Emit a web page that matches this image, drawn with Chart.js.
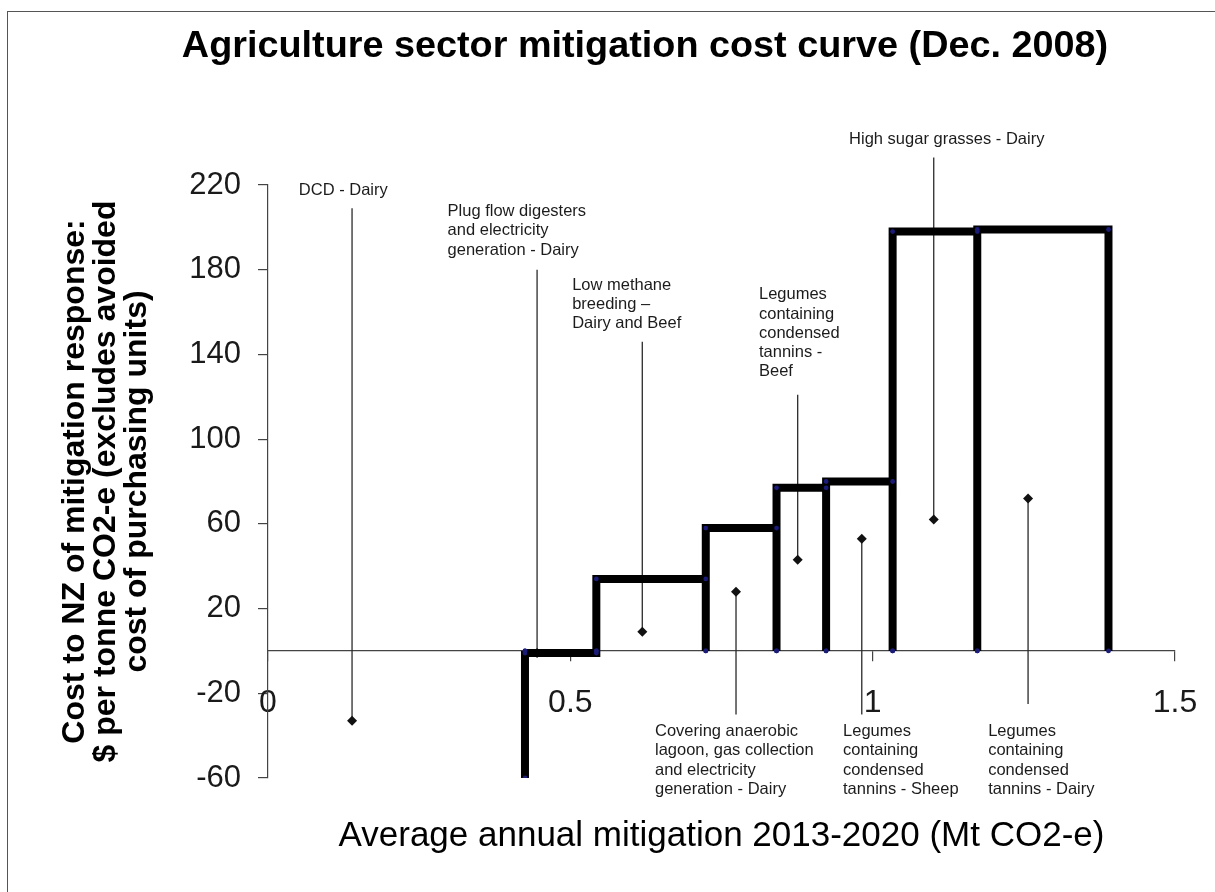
<!DOCTYPE html>
<html>
<head>
<meta charset="utf-8">
<title>Agriculture sector mitigation cost curve</title>
<script src="https://cdn.jsdelivr.net/npm/chart.js@4.4.1/dist/chart.umd.min.js"></script>
<style>
  html, body { margin: 0; padding: 0; background: #fff; }
  #wrap { position: relative; width: 1215px; height: 892px; overflow: hidden; }
  #wrap canvas { position: absolute; left: 0; top: 0; }
  #frame { position: absolute; left: 7px; top: 11px; width: 1400px; height: 1000px;
           border-left: 1.5px solid #555; border-top: 1.5px solid #555; pointer-events: none; }
</style>
</head>
<body>
<div id="wrap">
  <canvas id="mac" width="1215" height="892"></canvas>
  <div id="frame"></div>
</div>
<script>
// Mitigation measures, in merit order along the curve
const measureNames = [
  'DCD - Dairy',
  'Plug flow digesters and electricity generation - Dairy',
  'Low methane breeding - Dairy and Beef',
  'Covering anaerobic lagoon, gas collection and electricity generation - Dairy',
  'Legumes containing condensed tannins - Beef',
  'Legumes containing condensed tannins - Sheep',
  'High sugar grasses - Dairy',
  'Legumes containing condensed tannins - Dairy'
];

// Cumulative mitigation (Mt CO2-e) where each measure's block starts and ends
const blockStart = [0, 0.425, 0.543, 0.724, 0.841, 0.923, 1.033, 1.173];
const blockEnd   = [0.425, 0.543, 0.724, 0.841, 0.923, 1.033, 1.173, 1.390];
// Cost ($ per tonne CO2-e); the DCD block runs below the axis floor of -60
const blockCost  = [-60, -1, 34, 58, 77, 80, 198, 199];

// Call-out markers: x position, marker value, and where the leader line ends
const calloutX    = [0.139, 0.445, 0.619, 0.774, 0.876, 0.982, 1.101, 1.257];
const calloutMark = [-33, -1, 9, 28, 43, 53, 62, 72];
const calloutEnd  = [209, 180, 146, -30, 121, -30, 233, -25];

// Call-out text, line by line
const calloutText = [
  ['DCD - Dairy'],
  ['Plug flow digesters', 'and electricity', 'generation - Dairy'],
  ['Low methane', 'breeding \u2013', 'Dairy and Beef'],
  ['Covering anaerobic', 'lagoon, gas collection', 'and electricity', 'generation - Dairy'],
  ['Legumes', 'containing', 'condensed', 'tannins -', 'Beef'],
  ['Legumes', 'containing', 'condensed', 'tannins - Sheep'],
  ['High sugar grasses - Dairy'],
  ['Legumes', 'containing', 'condensed', 'tannins - Dairy']
];

// Axis ticks
const xTickValues = [0, 0.5, 1, 1.5];
const xTickLabels = ['0', '0.5', '1', '1.5'];
const yTickValues = [-60, -20, 20, 60, 100, 140, 180, 220];
const yTickLabels = ['-60', '-20', '20', '60', '100', '140', '180', '220'];

// ---- layout of the text blocks (axis units of the first line's left edge) ----
const calloutTextAt = [
  [0.051, 217.3], [0.297, 207.4], [0.503, 172.8], [0.640, -38.1],
  [0.812, 168.1], [0.951, -38.1], [0.961, 241.3], [1.191, -38.1]
];

const FONT = '"Liberation Sans", Arial, Helvetica, sans-serif';

// Outline of the cost curve: each block drawn as an open rectangle on the x axis
const stepPoints = [];
blockCost.forEach((c, i) => {
  if (i > 0) {
    stepPoints.push({ x: blockStart[i], y: 0 });
    stepPoints.push({ x: blockStart[i], y: c });
  }
  stepPoints.push({ x: blockEnd[i], y: c });
  stepPoints.push({ x: blockEnd[i], y: 0 });
});

const datasets = [{
  label: 'Marginal cost',
  data: stepPoints,
  showLine: true,
  borderColor: '#000',
  borderWidth: 8,
  borderJoinStyle: 'miter',
  borderCapStyle: 'butt',
  pointRadius: 2.4,
  pointBackgroundColor: '#1b1b78',
  pointBorderWidth: 0
}];

measureNames.forEach((name, i) => {
  datasets.push({
    label: name,
    data: [{ x: calloutX[i], y: calloutMark[i] }, { x: calloutX[i], y: calloutEnd[i] }],
    showLine: true,
    clip: false,
    borderColor: '#2a2a2a',
    borderWidth: 1.3,
    pointStyle: 'rectRot',
    pointRadius: [5, 0],
    pointBackgroundColor: '#111',
    pointBorderColor: '#111',
    pointBorderWidth: 0
  });
});

// Heading and call-out labels
const textPlugin = {
  id: 'macText',
  afterDatasetsDraw(chart) {
    const { ctx, scales: { x, y } } = chart;
    ctx.save();
    ctx.fillStyle = '#000';
    ctx.textAlign = 'center';
    ctx.textBaseline = 'middle';
    ctx.font = 'bold 37.8px ' + FONT;
    ctx.fillText('Agriculture sector mitigation cost curve (Dec. 2008)', 645, 47);

    ctx.fillStyle = '#1c1c1c';
    ctx.textAlign = 'left';
    ctx.font = '16.5px ' + FONT;
    calloutText.forEach((lines, i) => {
      const px = x.getPixelForValue(calloutTextAt[i][0]);
      const py = y.getPixelForValue(calloutTextAt[i][1]);
      lines.forEach((t, k) => ctx.fillText(t, px, py + k * 19.2));
    });
    ctx.restore();
  }
};

new Chart(document.getElementById('mac'), {
  type: 'scatter',
  data: { datasets },
  plugins: [textPlugin],
  options: {
    responsive: false,
    animation: false,
    events: [],
    layout: { padding: { left: 0, right: 40, top: 185, bottom: 114 } },
    plugins: { legend: { display: false }, tooltip: { enabled: false }, title: { display: false } },
    scales: {
      x: {
        type: 'linear',
        min: 0,
        max: 1.5,
        position: { y: 0 },
        afterBuildTicks: (s) => { s.ticks = xTickValues.map(v => ({ value: v })); },
        // the end labels only need half their width beside the plot
        afterFit: (s) => { s.paddingLeft = 25; s.paddingRight = 25; },
        ticks: {
          font: { size: 32, family: FONT }, color: '#1a1a1a', padding: 23, maxRotation: 0, autoSkip: false,
          callback: (v, i) => xTickLabels[i]
        },
        grid: { drawOnChartArea: false, drawTicks: true, tickLength: 10, color: '#444', lineWidth: 1.2 },
        border: { color: '#444', width: 1.2 },
        title: {
          display: true,
          text: 'Average annual mitigation 2013-2020 (Mt CO2-e)',
          font: { size: 35, family: FONT },
          color: '#000',
          padding: { top: 70, bottom: 0 }
        }
      },
      y: {
        type: 'linear',
        min: -60,
        max: 220,
        position: 'left',
        afterBuildTicks: (s) => { s.ticks = yTickValues.map(v => ({ value: v })); },
        afterFit: (s) => { s.width = 268; },
        ticks: {
          font: { size: 31, family: FONT }, color: '#1a1a1a', padding: 17, autoSkip: false,
          callback: (v, i) => yTickLabels[i]
        },
        grid: { drawOnChartArea: false, drawTicks: true, tickLength: 10, color: '#444', lineWidth: 1.2 },
        border: { color: '#444', width: 1.2 },
        title: {
          display: true,
          text: ['Cost to NZ of mitigation response:', '$ per tonne CO2-e (excludes avoided', 'cost of purchasing units)'],
          font: { size: 32, weight: 'bold', family: FONT, lineHeight: '31px' },
          color: '#000',
          padding: { top: 59.5, bottom: 0 }
        }
      }
    }
  }
});
</script>
</body>
</html>
